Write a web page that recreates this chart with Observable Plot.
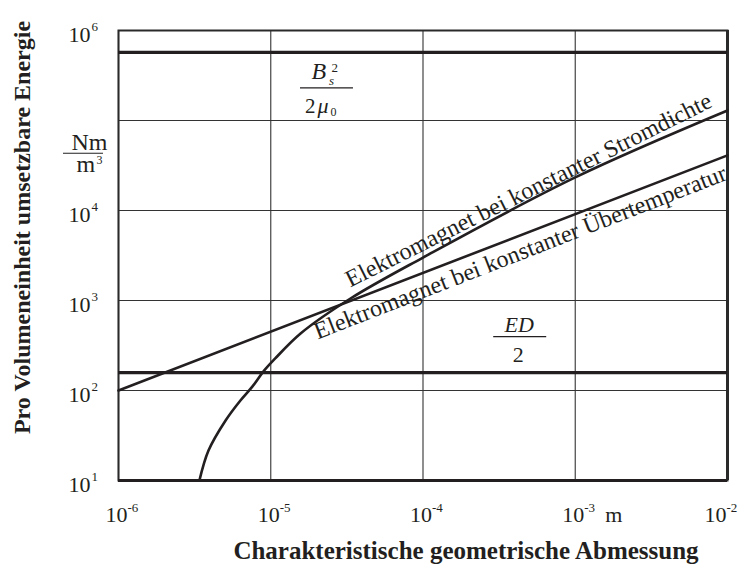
<!DOCTYPE html>
<html>
<head>
<meta charset="utf-8">
<script src="https://cdn.jsdelivr.net/npm/d3@7"></script>
<script src="https://cdn.jsdelivr.net/npm/@observablehq/plot@0.6"></script>
<style>
  body { margin: 0; background: #fff; }
  svg { display: block; }
</style>
</head>
<body>
<div id="chart"></div>
<script>
// Decade ticks of both logarithmic axes (the 10^5 slot carries the unit instead)
const xTicks = [1e-6, 1e-5, 1e-4, 1e-3, 1e-2];
const xTickExp = ["-6", "-5", "-4", "-3", "-2"];
const yGrid = [1e1, 1e2, 1e3, 1e4, 1e5, 1e6];
const yTicks = [1e1, 1e2, 1e3, 1e4, 1e6];
const yTickExp = ["1", "2", "3", "4", "6"];

// Upper energy limits: magnetic saturation B_s^2/(2 mu0) and electrostatic ED/2
const limitValues = [5.7e5, 158];

// Electromagnet with constant current density (m -> Nm/m^3)
const stromX = [3.4e-6, 3.9e-6, 5.05e-6, 6.32e-6, 7.59e-6, 8.96e-6, 1.07e-5, 1.57e-5, 3.34e-5, 1e-4, 1e-3, 1e-2];
const stromY = [10, 21.5, 46.4, 77.4, 111, 163, 227, 430, 1052, 3000, 23300, 129000];

// Electromagnet with constant temperature rise
const tempX = [1e-6, 1e-2];
const tempY = [100, 41000];

// Curve captions
const curveLabels = [
  "Elektromagnet bei konstanter Stromdichte",
  "Elektromagnet bei konstanter Übertemperatur"
];

const serif = "'Liberation Serif', 'Times New Roman', serif";
const ink = "#231f20";

// Small helpers for formula annotations placed through the plot's scales
function put(g, str, px, py, {size = 22, italic = false, anchor = "start"} = {}) {
  g.append("text")
    .attr("x", px).attr("y", py)
    .attr("font-size", size)
    .attr("font-style", italic ? "italic" : "normal")
    .attr("text-anchor", anchor)
    .text(str);
}
function bar(g, x1, x2, py) {
  g.append("line").attr("x1", x1).attr("x2", x2).attr("y1", py).attr("y2", py)
    .attr("stroke", ink).attr("stroke-width", 1.2);
}
function formula(build) {
  return (index, scales) => {
    const g = d3.create("svg:g").attr("font-family", serif).attr("fill", ink);
    build(g, scales.x, scales.y);
    return g.node();
  };
}

// the last decade label is pulled left so that it stays inside the figure
const xBaseShift = xTicks.map((d, i) => i === xTicks.length - 1 ? -12 : -2);

const chart = Plot.plot({
  width: 739,
  height: 571,
  marginLeft: 118,
  marginRight: 12,
  marginTop: 30,
  marginBottom: 91,
  x: {type: "log", domain: [1e-6, 1e-2], axis: null},
  y: {type: "log", domain: [10, 1e6], axis: null},
  style: {fontFamily: serif, background: "#fff", color: ink},
  marks: [
    // grid
    Plot.ruleX(xTicks, {stroke: "#444", strokeWidth: 1.2}),
    Plot.ruleY(yGrid, {stroke: "#333", strokeWidth: 1.1}),
    Plot.frame({stroke: "#2a2a2a", strokeWidth: 2}),
    Plot.ruleY([10], {stroke: ink, strokeWidth: 3.2}),
    Plot.ruleX([1e-2], {stroke: "#2a2a2a", strokeWidth: 3}),

    // energy limits
    Plot.ruleY(limitValues, {stroke: ink, strokeWidth: 3.2}),

    // electromagnet curves
    Plot.line(stromX.map((x, i) => ({x, y: stromY[i]})), {
      x: "x", y: "y", curve: "catmull-rom", stroke: ink, strokeWidth: 2.6
    }),
    Plot.line(tempX.map((x, i) => ({x, y: tempY[i]})), {
      x: "x", y: "y", stroke: ink, strokeWidth: 2.6
    }),

    // curve captions
    Plot.text(curveLabels, {
      x: [4.93e-4, 4.35e-4],
      y: [1.69e4, 3436],
      rotate: [-26.5, -21.3],
      text: d => d,
      fontSize: 24,
      fill: ink,
      textAnchor: "middle",
      lineAnchor: "middle"
    }),

    // x tick labels
    ...xTicks.map((t, i) => [
      Plot.text([t], {x: d => d, frameAnchor: "bottom", text: () => "10", textAnchor: "middle",
        dx: xBaseShift[i], dy: 34, fontSize: 22, fill: ink, lineAnchor: "middle"}),
      Plot.text([t], {x: d => d, frameAnchor: "bottom", text: () => xTickExp[i], textAnchor: "start",
        dx: xBaseShift[i] + 11, dy: 27, fontSize: 13, fill: ink, lineAnchor: "middle"})
    ]).flat(),
    Plot.text([1e-3], {x: d => d, frameAnchor: "bottom", text: () => "m", textAnchor: "start",
      dx: 30, dy: 34, fontSize: 22, fill: ink, lineAnchor: "middle"}),

    // y tick labels
    Plot.text(yTicks, {y: d => d, frameAnchor: "left", text: () => "10", textAnchor: "end",
      dx: -28, dy: 4, fontSize: 22, fill: ink, lineAnchor: "middle"}),
    Plot.text(yTicks, {y: d => d, frameAnchor: "left", text: (d, i) => yTickExp[i], textAnchor: "start",
      dx: -27, dy: -4, fontSize: 13, fill: ink, lineAnchor: "middle"}),

    // axis titles
    Plot.text(["Charakteristische geometrische Abmessung"], {
      frameAnchor: "bottom", textAnchor: "middle", dx: 43, dy: 70,
      fontSize: 25, fontWeight: "bold", fill: ink, lineAnchor: "middle"
    }),
    Plot.text(["Pro Volumeneinheit umsetzbare Energie"], {
      frameAnchor: "left", textAnchor: "middle", dx: -96, dy: -28, rotate: -90,
      fontSize: 24, fontWeight: "bold", fill: ink, lineAnchor: "middle"
    }),

    // B_s^2 / (2 mu_0)
    formula((g, x, y) => {
      const cx = x(2.34e-5), cy = y(2.27e5);
      put(g, "B", cx - 15, cy - 8.5, {size: 24, italic: true});
      put(g, "2", cx + 5, cy - 16, {size: 13});
      put(g, "s", cx + 2.5, cy - 3, {size: 13, italic: true});
      bar(g, cx - 26.5, cx + 26.5, cy);
      put(g, "2", cx - 21.5, cy + 25, {size: 21});
      put(g, "μ", cx - 9, cy + 25, {size: 22, italic: true});
      put(g, "0", cx + 4, cy + 28, {size: 12});
    }),

    // ED / 2
    formula((g, x, y) => {
      const cx = x(4.35e-4), cy = y(391);
      put(g, "ED", cx - 0.5, cy - 5, {size: 22, italic: true, anchor: "middle"});
      bar(g, cx - 26.5, cx + 26.5, cy);
      put(g, "2", cx - 1.5, cy + 25, {size: 22, anchor: "middle"});
    }),

    // unit Nm/m^3 next to the y axis
    formula((g, x, y) => {
      const cx = x(1e-6) - 35, cy = y(4.27e4);
      put(g, "Nm", cx - 11.5, cy - 3, {size: 24});
      bar(g, cx - 20, cx + 20, cy);
      put(g, "m", cx - 6.5, cy + 18.5, {size: 24});
      put(g, "3", cx + 13.5, cy + 10.5, {size: 12});
    })
  ]
});

document.getElementById("chart").append(chart);
</script>
</body>
</html>
